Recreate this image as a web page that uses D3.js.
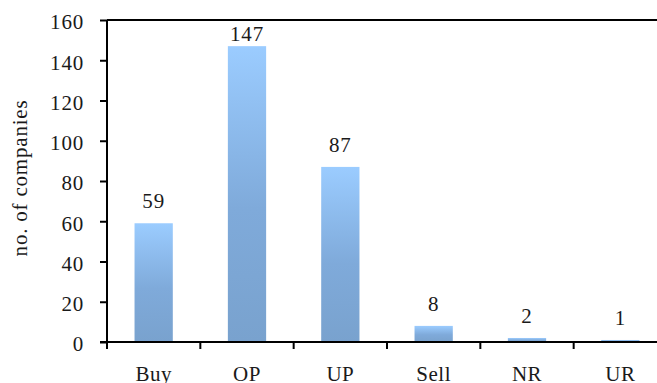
<!DOCTYPE html>
<html>
<head>
<meta charset="utf-8">
<script src="https://cdn.jsdelivr.net/npm/d3@7"></script>
<style>
html,body{margin:0;padding:0;background:#fff;}
svg{display:block;}
</style>
</head>
<body>
<svg id="chart" width="657" height="383"></svg>
<script>
const categories = ["Buy", "OP", "UP", "Sell", "NR", "UR"];
const values = [59, 147, 87, 8, 2, 1];
const yTicks = [0, 20, 40, 60, 80, 100, 120, 140, 160];
const yTitle = "no. of companies";

const FONT = '"Liberation Serif"';
const W = 657, H = 383;
const m = {left: 107, top: 20, right: 657 - 667, bottom: 383 - 342};
const svg = d3.select("#chart").style("font-family", FONT);

const defs = svg.append("defs");
const grad = defs.append("linearGradient").attr("id", "barGrad")
  .attr("x1", 0).attr("y1", 0).attr("x2", 0).attr("y2", 1);
grad.append("stop").attr("offset", "0%").attr("stop-color", "#9BCCFF");
grad.append("stop").attr("offset", "55%").attr("stop-color", "#7FAADA");
grad.append("stop").attr("offset", "100%").attr("stop-color", "#79A2CE");

const x = d3.scaleBand().domain(categories).range([m.left, W - m.right]).paddingInner(0.59).paddingOuter(0.295);
const xTickScale = d3.scaleBand().domain(categories).range([m.left, W - m.right]);
const y = d3.scaleLinear().domain([0, 160]).range([H - m.bottom, m.top]);

function styleText(sel, ls) {
  sel.style("font-family", FONT).style("font-size", "21px").attr("fill", "#1a1a1a");
  if (ls) sel.attr("letter-spacing", ls);
  return sel;
}

// bars
svg.append("g").selectAll("rect").data(values).join("rect")
  .attr("x", (d, i) => x(categories[i]))
  .attr("width", x.bandwidth())
  .attr("y", d => y(d))
  .attr("height", d => y(0) - y(d))
  .attr("fill", "url(#barGrad)");

// value labels
svg.append("g").selectAll("text").data(values).join("text")
  .attr("x", (d, i) => x(categories[i]) + x.bandwidth() / 2)
  .attr("y", d => Math.max(y(d) - 15, m.top + 20.5))
  .attr("text-anchor", "middle")
  .call(styleText, 0.8)
  .text(d => d);

// top frame line
svg.append("line")
  .attr("x1", m.left).attr("x2", W).attr("y1", y(160)).attr("y2", y(160))
  .attr("stroke", "#000").attr("stroke-width", 2);

// y axis
const yAxis = svg.append("g").attr("transform", `translate(${m.left},0)`)
  .call(d3.axisLeft(y).tickValues(yTicks).tickSize(7).tickPadding(16));
yAxis.attr("font-family", null);
yAxis.select(".domain").attr("stroke", "#000").attr("stroke-width", 2)
  .attr("d", `M0,${y(0)}V${y(160)}`);
yAxis.selectAll(".tick line").attr("stroke", "#000").attr("stroke-width", 2);
yAxis.selectAll(".tick text").call(styleText, 0.8).attr("dy", "0.42em");

// x axis
const xAxis = svg.append("g").attr("transform", `translate(0,${y(0)})`)
  .call(d3.axisBottom(xTickScale).tickSize(0).tickPadding(24));
xAxis.attr("font-family", null);
xAxis.select(".domain").attr("stroke", "#000").attr("stroke-width", 2)
  .attr("d", `M${m.left - 7},0H${W}`);
xAxis.selectAll(".tick text").call(styleText, 0.5).attr("dy", "0.71em");
// category boundary ticks
svg.append("g").selectAll("line").data(categories).join("line")
  .attr("x1", d => xTickScale(d)).attr("x2", d => xTickScale(d))
  .attr("y1", y(0)).attr("y2", y(0) + 7)
  .attr("stroke", "#000").attr("stroke-width", 2);

// y title
svg.append("text")
  .attr("transform", `translate(27,178) rotate(-90)`)
  .attr("text-anchor", "middle")
  .call(styleText, 0.8)
  .text(yTitle);
</script>
</body>
</html>
